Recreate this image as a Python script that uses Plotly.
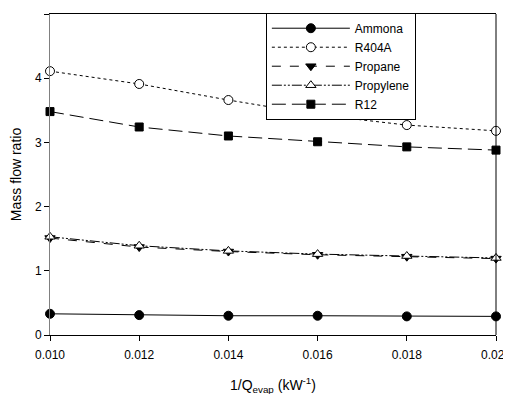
import plotly.graph_objects as go

x_vals = [0.010, 0.012, 0.014, 0.016, 0.018, 0.020]
ammona = [0.33, 0.31, 0.30, 0.30, 0.29, 0.29]
r404a = [4.11, 3.91, 3.66, 3.43, 3.27, 3.18]
propane = [1.51, 1.37, 1.30, 1.25, 1.22, 1.19]
propylene = [1.53, 1.39, 1.31, 1.26, 1.23, 1.20]
r12 = [3.48, 3.24, 3.10, 3.01, 2.93, 2.88]

series = [
    ("Ammona", ammona, "solid", "circle", "black", 9),
    ("R404A", r404a, "dot", "circle", "white", 9),
    ("Propane", propane, "dash", "triangle-down", "black", 9),
    ("Propylene", propylene, "10px,2px,2px,2px,2px,2px", "triangle-up", "white", 9),
    ("R12", r12, "14px,6px", "square", "black", 8),
]

fig = go.Figure()
for name, ys, dash, sym, fill, sz in series:
    fig.add_trace(go.Scatter(
        x=x_vals, y=ys, name=name, mode="lines+markers",
        line=dict(color="black", width=1, dash=dash),
        marker=dict(symbol=sym, size=sz, color=fill,
                    line=dict(color="black", width=1)),
        cliponaxis=False,
    ))

fam = "Liberation Sans, Arial, sans-serif"
fig.update_layout(
    width=511, height=394,
    margin=dict(l=42, r=23, t=6, b=67, autoexpand=False),
    paper_bgcolor="white", plot_bgcolor="white",
    font=dict(family=fam, size=12, color="black"),
    showlegend=True,
    legend=dict(x=0.484, y=1.004, xanchor="left", yanchor="top",
                bordercolor="black", borderwidth=1, bgcolor="white",
                font=dict(family=fam, size=12),
                itemwidth=78, tracegroupgap=0),
    xaxis=dict(range=[0.010, 0.020], tickvals=x_vals, tickformat=".3f",
               showline=True, linecolor="black", linewidth=1, mirror=True,
               ticks="outside", ticklen=5, tickcolor="black", showgrid=False, zeroline=False,
               automargin=False, ticklabeloverflow="allow", ticklabelstandoff=4,
               title=dict(text="1/Q<sub>evap</sub> (kW<sup>-1</sup>)", font=dict(size=14), standoff=18)),
    yaxis=dict(range=[0, 5], tickvals=[0, 1, 2, 3, 4, 5],
               showline=True, linecolor="#808080", linewidth=1,
               ticks="outside", ticklen=5, tickcolor="black", showgrid=False, zeroline=False,
               automargin=False,
               title=dict(text="Mass flow ratio", font=dict(size=14), standoff=22)),
    shapes=[dict(type="line", xref="paper", yref="paper", x0=1, x1=1, y0=0, y1=1,
                 line=dict(color="black", width=1))],
)

fig.write_html("out.html")
